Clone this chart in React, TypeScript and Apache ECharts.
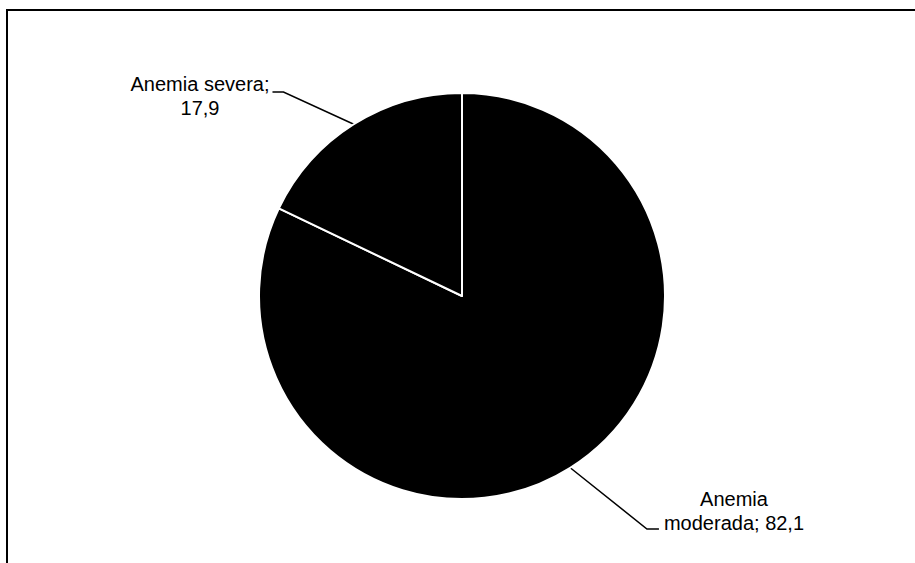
import React, { useEffect, useRef } from "react";
import * as echarts from "echarts";

const categories = ["Anemia moderada", "Anemia severa"];
const values = [82.1, 17.9];
// where each label text is broken onto a second line
const labelFirstLines = ["Anemia", "Anemia severa;"];
const labelSecondLines = ["moderada; ", ""];

const fmt = (v: number) => v.toFixed(1).replace(".", ",");

export default function App() {
  const ref = useRef<HTMLDivElement>(null);
  useEffect(() => {
    if (!ref.current) return;
    const chart = echarts.init(ref.current, null, { renderer: "svg" });
    const data = categories.map((name, i) => ({ name, value: values[i] }));
    chart.setOption({
      animation: false,
      backgroundColor: "#ffffff",
      graphic: [
        {
          type: "polyline",
          shape: { points: [[7, 600], [7, 10], [960, 10]] },
          style: { fill: "none", stroke: "#000", lineWidth: 2 },
          silent: true,
        },
      ],
      series: [
        {
          type: "pie",
          center: [462, 296],
          radius: 203,
          startAngle: 90,
          clockwise: true,
          data,
          itemStyle: { color: "#000", borderColor: "#fff", borderWidth: 2 },
          emphasis: { disabled: true },
          label: {
            show: true,
            position: "outside",
            color: "#000",
            fontFamily: "Liberation Sans, Arial, sans-serif",
            fontSize: 20,
            lineHeight: 24,
            align: "center",
            formatter: (p: any) =>
              labelFirstLines[p.dataIndex] +
              "\n" +
              labelSecondLines[p.dataIndex] +
              fmt(p.value),
          },
          labelLine: {
            show: true,
            length: 20,
            length2: 12,
            lineStyle: { color: "#000", width: 1.5 },
          },
          labelLayout: (params: any) => {
            const w = params.labelRect.width;
            const p0 =
              params.labelLinePoints && params.labelLinePoints[0]
                ? params.labelLinePoints[0]
                : null;
            if (params.dataIndex === 1) {
              const cx = 200;
              const cy = 96;
              const right = cx + w / 2;
              const out: any = { x: cx, y: cy, align: "center", verticalAlign: "middle" };
              if (p0) out.labelLinePoints = [p0, [right + 14, cy - 4], [right + 3, cy - 4]];
              return out;
            } else {
              const cx = 734;
              const cy = 511;
              const left = cx - w / 2;
              const out: any = { x: cx, y: cy, align: "center", verticalAlign: "middle" };
              if (p0) out.labelLinePoints = [p0, [left - 17, cy + 18], [left - 5, cy + 18]];
              return out;
            }
          },
        },
      ],
    });
    return () => chart.dispose();
  }, []);
  return (
    <div
      ref={ref}
      style={{ position: "fixed", left: 0, top: 0, width: 915, height: 563 }}
    />
  );
}
